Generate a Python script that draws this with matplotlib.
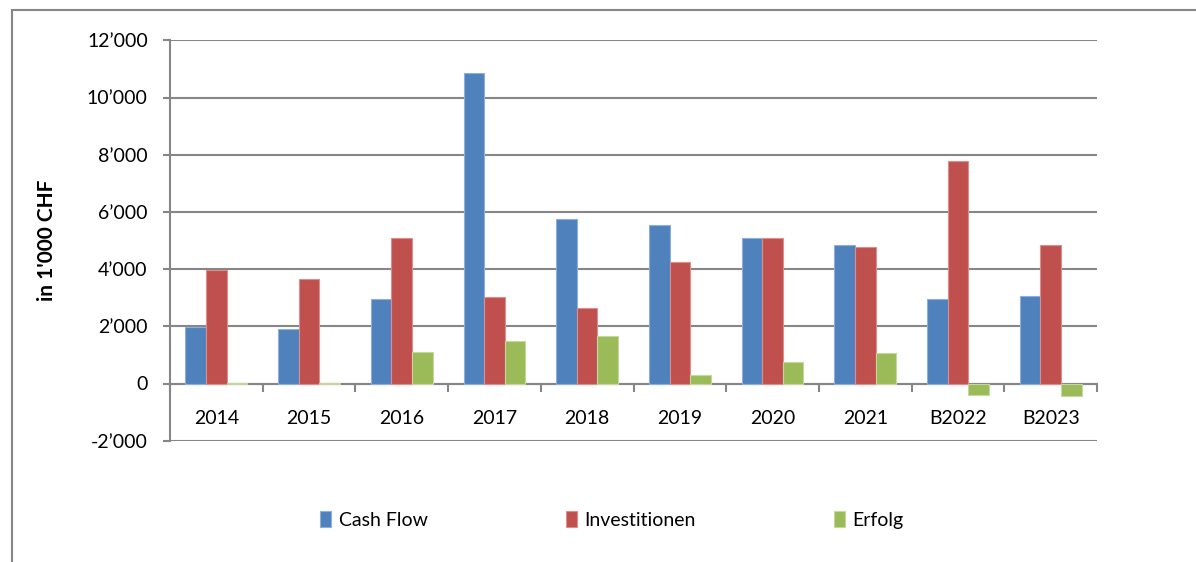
import matplotlib

matplotlib.use("Agg")
import matplotlib.pyplot as plt
import numpy as np
from matplotlib.patches import Rectangle
from matplotlib.ticker import FuncFormatter

categories = ["2014", "2015", "2016", "2017", "2018", "2019", "2020", "2021", "B2022", "B2023"]
cash_flow = [1990, 1900, 2950, 10850, 5750, 5540, 5080, 4830, 2960, 3060]
investitionen = [3970, 3660, 5080, 3010, 2650, 4250, 5080, 4780, 7780, 4830]
erfolg = [10, 8, 1110, 1480, 1650, 300, 760, 1060, -400, -450]
series_names = ["Cash Flow", "Investitionen", "Erfolg"]
colors = ["#4F81BD", "#C0504D", "#9BBB59"]
edges = ["#8EAEDB", "#DB8E8C", "#C2D89F"]

plt.rcParams["font.family"] = ["Lato", "DejaVu Sans"]
grid_c = "#868686"

fig = plt.figure(figsize=(11.96, 5.62), dpi=100)
ax = fig.add_axes([170 / 1196, 1 - 440.7 / 562, (1097 - 170) / 1196, (440.7 - 40.3) / 562])

# outer chart frame (partly cut off by the image edge)
fig.patches.append(Rectangle((12 / 1196, -0.05), 1.2, 1.05 - 9.5 / 562, transform=fig.transFigure,
                             fill=False, edgecolor=grid_c, lw=1.5, zorder=0))

x = np.arange(len(categories))
w = 0.222
for k, vals in enumerate([cash_flow, investitionen, erfolg]):
    ax.bar(x + (k - 1) * w, vals, width=w, color=colors[k], edgecolor=edges[k], linewidth=0.8,
           label=series_names[k], zorder=3)

ax.set_xlim(-0.5, len(categories) - 0.5)
ax.set_ylim(-2000, 12000)
ax.set_yticks(np.arange(-2000, 12001, 2000))
ax.yaxis.set_major_formatter(FuncFormatter(lambda v, p: f"{int(v):,}".replace(",", "\u2019")))
ax.grid(axis="y", color=grid_c, lw=1.5, zorder=0)
ax.tick_params(axis="y", length=5, width=1.5, color=grid_c, pad=11, labelsize=14)

ax.spines["bottom"].set_position(("data", 0))
for s in ["top", "right"]:
    ax.spines[s].set_visible(False)
for s in ["left", "bottom"]:
    ax.spines[s].set_color(grid_c)
    ax.spines[s].set_linewidth(1.5)

ax.set_xticks(x)
ax.set_xticklabels(categories)
ax.set_xticks(np.arange(-0.5, len(categories)), minor=True)
ax.tick_params(axis="x", which="major", length=0, pad=19, labelsize=14)
ax.tick_params(axis="x", which="minor", length=6, width=1.5, color=grid_c)

ax.set_ylabel("in 1'000 CHF", fontsize=15, fontweight="bold")
ax.yaxis.set_label_coords((57 - 170) / 927, 0.5)

fig.legend(loc="center", bbox_to_anchor=(612 / 1196, 1 - 520 / 562), ncol=3, frameon=False,
           fontsize=14, handlelength=0.55, handleheight=0.85, handletextpad=0.4, columnspacing=7.1)

plt.savefig("out.png", dpi=100)
